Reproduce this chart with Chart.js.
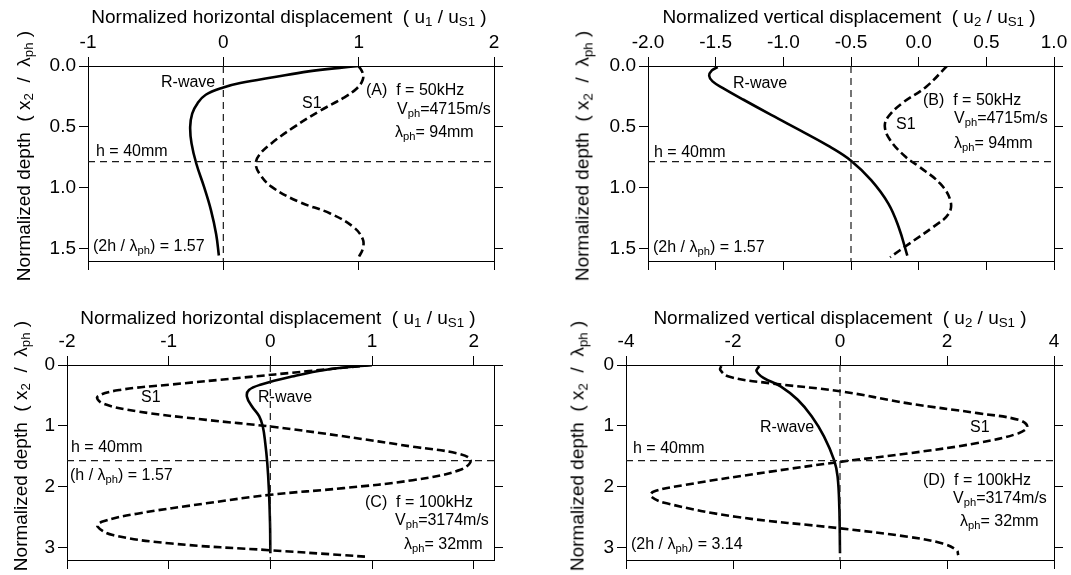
<!DOCTYPE html>
<html><head><meta charset="utf-8">
<script src="https://cdn.jsdelivr.net/npm/chart.js@4.4.0/dist/chart.umd.min.js"></script>
<style>
html,body{margin:0;padding:0;background:#fff;}
#wrap{position:relative;width:1071px;height:575px;overflow:hidden;font-family:"Liberation Sans",Arial,sans-serif;color:#000;}
canvas{position:absolute;left:0;top:0;}
.t{position:absolute;white-space:nowrap;transform:translateY(-50%);font-size:16px;line-height:1;}
.ttl{position:absolute;white-space:nowrap;transform:translate(-50%,-50%);font-size:19px;line-height:1;}
.yt{position:absolute;white-space:nowrap;transform:translate(-50%,-50%) rotate(-90deg);font-size:19px;line-height:1;}
sub{font-size:70%;vertical-align:-0.3em;line-height:0;}
</style></head>
<body>
<div id="wrap">
<canvas id="cA" width="1071" height="575"></canvas>
<canvas id="cB" width="1071" height="575"></canvas>
<canvas id="cC" width="1071" height="575"></canvas>
<canvas id="cD" width="1071" height="575"></canvas>

<!-- Panel A texts -->
<div class="ttl" style="left:289px;top:16px;">Normalized horizontal displacement&nbsp; ( u<sub>1</sub> / u<sub>S1</sub> )</div>
<div class="yt" style="left:23px;top:156px;">Normalized depth&nbsp; ( x<sub>2</sub>&nbsp; /&nbsp; λ<sub>ph</sub> )</div>
<div class="t" style="left:161px;top:82px;">R-wave</div>
<div class="t" style="left:302px;top:103px;">S1</div>
<div class="t" style="left:366px;top:90px;">(A)&nbsp; f = 50kHz</div>
<div class="t" style="left:397px;top:109px;">V<sub>ph</sub>=4715m/s</div>
<div class="t" style="left:395px;top:132px;">λ<sub>ph</sub>= 94mm</div>
<div class="t" style="left:96px;top:151px;">h = 40mm</div>
<div class="t" style="left:93px;top:246px;">(2h / λ<sub>ph</sub>) = 1.57</div>

<!-- Panel B texts -->
<div class="ttl" style="left:849px;top:16px;">Normalized vertical displacement&nbsp; ( u<sub>2</sub> / u<sub>S1</sub> )</div>
<div class="yt" style="left:582px;top:156px;">Normalized depth&nbsp; ( x<sub>2</sub>&nbsp; /&nbsp; λ<sub>ph</sub> )</div>
<div class="t" style="left:733px;top:83px;">R-wave</div>
<div class="t" style="left:896px;top:124px;">S1</div>
<div class="t" style="left:923px;top:100px;">(B)&nbsp; f = 50kHz</div>
<div class="t" style="left:954px;top:118px;">V<sub>ph</sub>=4715m/s</div>
<div class="t" style="left:954px;top:143px;">λ<sub>ph</sub>= 94mm</div>
<div class="t" style="left:654px;top:152px;">h = 40mm</div>
<div class="t" style="left:653px;top:247px;">(2h / λ<sub>ph</sub>) = 1.57</div>

<!-- Panel C texts -->
<div class="ttl" style="left:278px;top:317px;">Normalized horizontal displacement&nbsp; ( u<sub>1</sub> / u<sub>S1</sub> )</div>
<div class="yt" style="left:20px;top:446px;">Normalized depth&nbsp; ( x<sub>2</sub>&nbsp; /&nbsp; λ<sub>ph</sub> )</div>
<div class="t" style="left:141px;top:397px;">S1</div>
<div class="t" style="left:258px;top:397px;">R-wave</div>
<div class="t" style="left:71px;top:447px;">h = 40mm</div>
<div class="t" style="left:70px;top:475px;">(h / λ<sub>ph</sub>) = 1.57</div>
<div class="t" style="left:365px;top:502px;">(C)&nbsp; f = 100kHz</div>
<div class="t" style="left:395px;top:520px;">V<sub>ph</sub>=3174m/s</div>
<div class="t" style="left:404px;top:544px;">λ<sub>ph</sub>= 32mm</div>

<!-- Panel D texts -->
<div class="ttl" style="left:840px;top:317px;">Normalized vertical displacement&nbsp; ( u<sub>2</sub> / u<sub>S1</sub> )</div>
<div class="yt" style="left:577px;top:446px;">Normalized depth&nbsp; ( x<sub>2</sub>&nbsp; /&nbsp; λ<sub>ph</sub> )</div>
<div class="t" style="left:760px;top:427px;">R-wave</div>
<div class="t" style="left:970px;top:427px;">S1</div>
<div class="t" style="left:633px;top:448px;">h = 40mm</div>
<div class="t" style="left:923px;top:480px;">(D)&nbsp; f = 100kHz</div>
<div class="t" style="left:953px;top:498px;">V<sub>ph</sub>=3174m/s</div>
<div class="t" style="left:960px;top:521px;">λ<sub>ph</sub>= 32mm</div>
<div class="t" style="left:631px;top:544px;">(2h / λ<sub>ph</sub>) = 3.14</div>
</div>

<script>
// ===== Data (depth = x2/λph, displacement values) =====
// Panel A: horizontal displacement, f = 50 kHz
const depthA_R = [0, 0.011, 0.044, 0.09, 0.14, 0.176, 0.236, 0.305, 0.39, 0.5, 0.635, 0.8, 0.99, 1.18, 1.38, 1.555];
const dispA_R  = [1.0, 0.89, 0.63, 0.38, 0.125, 0.0, -0.13, -0.19, -0.23, -0.245, -0.235, -0.2, -0.143, -0.092, -0.053, -0.033];
const depthA_S = [0, 0.058, 0.113, 0.18, 0.26, 0.37, 0.51, 0.635, 0.73, 0.8, 0.88, 0.99, 1.115, 1.21, 1.32, 1.42, 1.5, 1.57];
const dispA_S  = [1.0, 1.03, 1.03, 0.99, 0.89, 0.71, 0.51, 0.355, 0.265, 0.24, 0.265, 0.355, 0.56, 0.79, 0.96, 1.03, 1.03, 1.0];

// Panel B: vertical displacement, f = 50 kHz
const depthB_R = [0.01, 0.036, 0.08, 0.126, 0.181, 0.277, 0.401, 0.552, 0.662, 0.777, 0.937, 1.129, 1.321, 1.555];
const dispB_R  = [-1.485, -1.528, -1.548, -1.523, -1.446, -1.294, -1.09, -0.835, -0.657, -0.5, -0.351, -0.224, -0.148, -0.084];
const depthB_S = [0, 0.17, 0.305, 0.415, 0.497, 0.607, 0.745, 0.827, 0.964, 1.102, 1.212, 1.321, 1.459, 1.569];
const dispB_S  = [0.209, 0.056, -0.122, -0.224, -0.25, -0.211, -0.097, 0.005, 0.158, 0.234, 0.222, 0.107, -0.071, -0.211];

// Panel C: horizontal displacement, f = 100 kHz
const depthC_R = [0, 0.077, 0.19, 0.32, 0.41, 0.52, 0.68, 0.84, 1.01, 1.28, 1.61, 2.05, 2.6, 3.09];
const dispC_R  = [1.0, 0.55, 0.21, -0.09, -0.21, -0.23, -0.18, -0.11, -0.074, -0.05, -0.03, -0.014, -0.003, 0.0];
const depthC_S = [0, 0.1, 0.21, 0.32, 0.41, 0.52, 0.63, 0.76, 0.9, 1.01, 1.17, 1.34, 1.45, 1.56, 1.72, 1.89, 2.02, 2.13, 2.27, 2.44, 2.57, 2.65, 2.79, 2.93, 3.04, 3.12, 3.15];
const dispC_S  = [1.0, 0.38, -0.29, -0.97, -1.48, -1.70, -1.65, -1.31, -0.63, 0.0, 0.72, 1.40, 1.84, 1.97, 1.87, 1.40, 0.72, 0.0, -0.63, -1.31, -1.65, -1.70, -1.55, -0.97, 0.0, 0.72, 0.97];

// Panel D: vertical displacement, f = 100 kHz
const depthD_R = [0.02, 0.10, 0.21, 0.35, 0.57, 0.84, 1.17, 1.56, 1.83, 2.33, 3.09];
const dispD_R  = [-1.51, -1.56, -1.43, -1.11, -0.79, -0.53, -0.30, -0.11, -0.045, -0.013, 0.0];
const depthD_S = [0.02, 0.077, 0.19, 0.30, 0.43, 0.63, 0.79, 0.90, 1.01, 1.12, 1.28, 1.45, 1.59, 1.75, 1.97, 2.08, 2.16, 2.27, 2.49, 2.68, 2.82, 2.93, 3.04, 3.12];
const dispD_S  = [-2.22, -2.24, -2.08, -1.30, 0.0, 1.28, 2.57, 3.34, 3.50, 3.34, 2.57, 1.28, 0.0, -1.30, -2.91, -3.49, -3.53, -3.24, -1.95, 0.0, 1.28, 1.92, 2.18, 2.21];

// Reference lines
const hDepthAB = 0.785;   // h = 40mm, panels A/B
const hDepthCD = 1.57;    // h = 40mm, panels C/D
const vRefA = 0, vRefB = -0.5, vRefC = 0, vRefD = 0;

// Axis ranges / tick labels
const xTicksA = [-1, 0, 1, 2];
const xTicksB = [-2.0, -1.5, -1.0, -0.5, 0.0, 0.5, 1.0];
const xTicksC = [-2, -1, 0, 1, 2];
const xTicksD = [-4, -2, 0, 2, 4];
const yTicksAB = [0.0, 0.5, 1.0, 1.5];
const yTicksCD = [0, 1, 2, 3];

// ===== Rendering =====
const W = 1071, H = 575;
const FONT = '"Liberation Sans", Arial, sans-serif';
Chart.defaults.font.family = FONT;
Chart.defaults.color = '#000';

function pts(xs, ys) { return xs.map((x, i) => ({ x: x, y: ys[i] })); }

function axisCommon(min, max, tickVals, decimals, showLabels, fitFn) {
  return {
    type: 'linear', min: min, max: max,
    afterBuildTicks: s => { s.ticks = tickVals.map(v => ({ value: v })); },
    ticks: {
      display: showLabels, font: { size: 19, family: FONT }, color: '#000', padding: 3,
      autoSkip: false, maxRotation: 0,
      callback: v => Number(v).toFixed(decimals)
    },
    grid: { drawOnChartArea: false, drawTicks: true, tickLength: 9, color: '#000', lineWidth: 1 },
    border: { display: true, color: '#000', width: 1 },
    afterFit: fitFn
  };
}

function makePanel(id, o) {
  const a = o.area;
  const ds = [];
  ds.push({ data: pts([o.vRef, o.vRef], [o.yMin, o.yMax]), borderColor: '#1a1a1a', borderWidth: 1.2, borderDash: [7, 5] });
  ds.push({ data: pts([o.xMin, o.xMax], [o.hRef, o.hRef]), borderColor: '#1a1a1a', borderWidth: 1.2, borderDash: [7, 5] });
  ds.push({ data: pts(o.sx, o.sy), borderColor: '#000', borderWidth: 2.6, borderDash: [8, 4], tension: 0.4 });
  ds.push({ data: pts(o.rx, o.ry), borderColor: '#000', borderWidth: 2.6, tension: 0.4 });
  ds.forEach(d => { d.showLine = true; d.pointRadius = 0; d.fill = false; d.xAxisID = 'x'; d.yAxisID = 'y'; d.borderCapStyle = 'butt'; });
  new Chart(document.getElementById(id), {
    type: 'scatter',
    data: { datasets: ds },
    options: {
      responsive: false, animation: false, devicePixelRatio: 1,
      layout: { padding: 0 },
      plugins: { legend: { display: false }, tooltip: { enabled: false } },
      scales: {
        x: Object.assign(axisCommon(o.xMin, o.xMax, o.xTicks, o.xDec, true, s => { s.height = a.t; }), { position: 'top' }),
        x2: Object.assign(axisCommon(o.xMin, o.xMax, o.xTicks, o.xDec, false, s => { s.height = H - a.b; }), { position: 'bottom' }),
        y: Object.assign(axisCommon(o.yMin, o.yMax, o.yTicks, o.yDec, true, s => { s.width = a.l; }), { position: 'left', reverse: true }),
        y2: Object.assign(axisCommon(o.yMin, o.yMax, o.yTicks, o.yDec, false, s => { s.width = W - a.r; }), { position: 'right', reverse: true })
      }
    }
  });
}

makePanel('cA', { area: { l: 88, t: 66, r: 494, b: 261 }, xMin: -1, xMax: 2, xTicks: xTicksA, xDec: 0,
  yMin: 0, yMax: 1.6, yTicks: yTicksAB, yDec: 1, vRef: vRefA, hRef: hDepthAB,
  rx: dispA_R, ry: depthA_R, sx: dispA_S, sy: depthA_S });
makePanel('cB', { area: { l: 648, t: 66, r: 1054, b: 261 }, xMin: -2, xMax: 1, xTicks: xTicksB, xDec: 1,
  yMin: 0, yMax: 1.6, yTicks: yTicksAB, yDec: 1, vRef: vRefB, hRef: hDepthAB,
  rx: dispB_R, ry: depthB_R, sx: dispB_S, sy: depthB_S });
makePanel('cC', { area: { l: 67, t: 365, r: 494, b: 560 }, xMin: -2, xMax: 2.2, xTicks: xTicksC, xDec: 0,
  yMin: 0, yMax: 3.2, yTicks: yTicksCD, yDec: 0, vRef: vRefC, hRef: hDepthCD,
  rx: dispC_R, ry: depthC_R, sx: dispC_S, sy: depthC_S });
makePanel('cD', { area: { l: 626, t: 365, r: 1054, b: 560 }, xMin: -4, xMax: 4, xTicks: xTicksD, xDec: 0,
  yMin: 0, yMax: 3.2, yTicks: yTicksCD, yDec: 0, vRef: vRefD, hRef: hDepthCD,
  rx: dispD_R, ry: depthD_R, sx: dispD_S, sy: depthD_S });
</script>
</body></html>
